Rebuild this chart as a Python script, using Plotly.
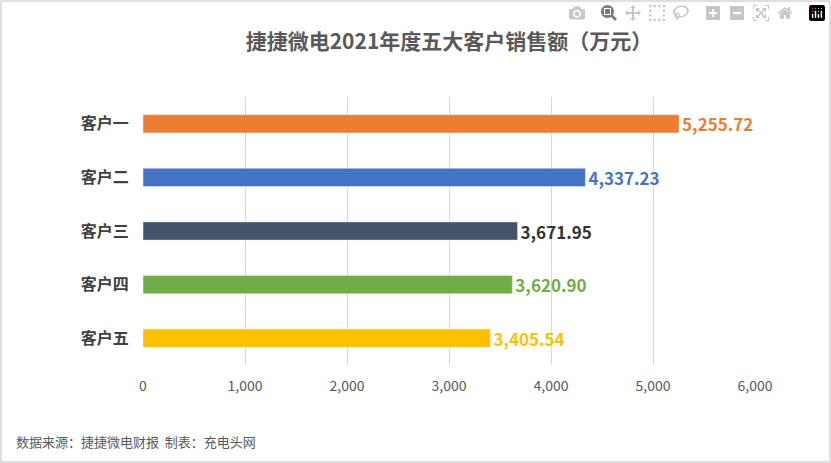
import plotly.graph_objects as go

customers = ["客户一", "客户二", "客户三", "客户四", "客户五"]
sales = [5255.72, 4337.23, 3671.95, 3620.90, 3405.54]
bar_colors = ["#ED7D31", "#4472C4", "#44546A", "#70AD47", "#FFC000"]
label_colors = ["#ED7D31", "#4472C4", "#333333", "#70AD47", "#FFC000"]
tick_vals = [0, 1000, 2000, 3000, 4000, 5000, 6000]

W, H = 831, 463
L, R, T, B = 143, 76, 97, 98
font = "Noto Sans CJK SC"

fig = go.Figure(go.Bar(
    y=customers, x=sales, orientation="h",
    marker_color=bar_colors,
    text=[f"<b>{v:,.2f}</b>" for v in sales],
    textposition="outside",
    constraintext="none",
    outsidetextfont=dict(color=label_colors, size=17, family=font),
    cliponaxis=False,
))

pw, ph = W - L - R, H - T - B
fig.add_shape(type="rect", xref="paper", yref="paper",
              x0=-(L - 1) / pw, x1=1 + (R - 1) / pw,
              y0=-(B - 1) / ph, y1=1 + (T - 1) / ph,
              line=dict(color="#BFBFBF", width=1))

fig.update_layout(
    width=W, height=H,
    margin=dict(l=L, r=R, t=T, b=B),
    paper_bgcolor="white", plot_bgcolor="white",
    bargap=0.66,
    showlegend=False,
    font=dict(family=font, color="#595959"),
    title=dict(text="<b>捷捷微电2021年度五大客户销售额（万元）</b>",
               x=0.5, xref="paper", y=1 - 42 / H, yanchor="middle",
               font=dict(size=21, color="#595959", family=font)),
    xaxis=dict(range=[0, 6000], tickvals=tick_vals, tickformat=",",
               showgrid=True, gridcolor="#D9D9D9", zeroline=False,
               tickfont=dict(size=14, color="#595959"), ticklen=8,
               ticks="outside", tickcolor="white"),
    yaxis=dict(autorange="reversed", showline=False,
               tickfont=dict(size=16, color="#404040"),
               ticks="outside", tickcolor="white", ticklen=10,
               tickprefix="<b>", ticksuffix="</b>"),
)

fig.add_annotation(text="数据来源：捷捷微电财报  制表：充电头网",
                   xref="paper", yref="paper",
                   x=-(L - 14) / pw, y=-(441 - T - ph) / ph,
                   xanchor="left", yanchor="middle", showarrow=False,
                   font=dict(size=13, color="#595959", family=font))

fig.write_html("out.html",
               post_script="document.body.style.margin='0';document.body.style.overflow='hidden';")
